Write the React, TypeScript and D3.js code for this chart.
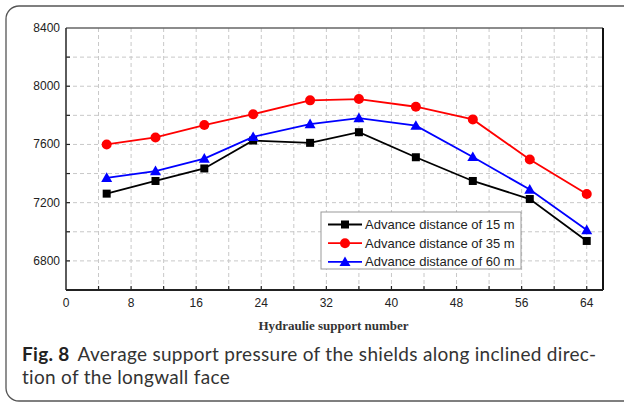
import React from "react";
import * as d3 from "d3";

const supports = [5, 11, 17, 23, 30, 36, 43, 50, 57, 64];
const dist15 = [7262, 7349, 7435, 7627, 7611, 7684, 7512, 7349, 7225, 6937];
const dist35 = [7600, 7648, 7733, 7808, 7903, 7912, 7859, 7772, 7497, 7260];
const dist60 = [7371, 7417, 7503, 7652, 7740, 7781, 7729, 7514, 7290, 7012];
const seriesNames = [
  "Advance distance of 15 m",
  "Advance distance of 35 m",
  "Advance distance of 60 m",
];
const xTicks = [0, 8, 16, 24, 32, 40, 48, 56, 64];
const yTicks = [6800, 7200, 7600, 8000, 8400];

const W = 624;
const H = 402;
const M = { left: 66, right: 603, top: 28, bottom: 290 };

export default function App() {
  const x = d3.scaleLinear().domain([0, 66]).range([M.left, M.right]);
  const y = d3.scaleLinear().domain([6600, 8400]).range([M.bottom, M.top]);
  const line = d3
    .line<[number, number]>()
    .x((d) => x(d[0]))
    .y((d) => y(d[1]));

  const series = [
    { name: seriesNames[0], values: dist15, color: "#000000", marker: "square" },
    { name: seriesNames[1], values: dist35, color: "#ff0000", marker: "circle" },
    { name: seriesNames[2], values: dist60, color: "#0000ff", marker: "triangle" },
  ];

  const marker = (type: string, cx: number, cy: number, color: string, key: string) => {
    if (type === "square")
      return <rect key={key} x={cx - 4} y={cy - 4} width={8} height={8} fill={color} />;
    if (type === "circle") return <circle key={key} cx={cx} cy={cy} r={5} fill={color} />;
    const s = 5.5;
    return (
      <path
        key={key}
        d={`M${cx},${cy - s} L${cx + s},${cy + s * 0.75} L${cx - s},${cy + s * 0.75} Z`}
        fill={color}
      />
    );
  };

  const gridX = d3.range(4, 66, 4);
  const gridY = d3.range(6800, 8400, 200);
  const minorX = d3.range(4, 66, 4);
  const minorY = d3.range(6800, 8400, 200);

  const legendX = 321;
  const legendY = 212;
  const sansFont = "'Liberation Sans', Arial, sans-serif";
  const capFont = "Lato, 'Open Sans', sans-serif";

  return (
    <svg
      width={W}
      height={H}
      style={{ position: "absolute", left: 0, top: 0, background: "#fff" }}
    >
      <rect x={6} y={6} width={640} height={395} rx={13} fill="none" stroke="#555" strokeWidth={1.3} />

      {/* grid */}
      <g stroke="#c8c8c8" strokeWidth={1} strokeDasharray="4,3">
        {gridX.map((v) => (
          <line key={"gx" + v} x1={x(v)} x2={x(v)} y1={M.top} y2={M.bottom} />
        ))}
        {gridY.map((v) => (
          <line key={"gy" + v} x1={M.left} x2={M.right} y1={y(v)} y2={y(v)} />
        ))}
      </g>

      {/* inward ticks */}
      <g stroke="#222" strokeWidth={1.2}>
        {minorX.map((v) => (
          <line key={"tx" + v} x1={x(v)} x2={x(v)} y1={M.bottom} y2={M.bottom - 4} />
        ))}
        {minorY.map((v) => (
          <line key={"ty" + v} x1={M.left} x2={M.left + 4} y1={y(v)} y2={y(v)} />
        ))}
      </g>

      {/* frame */}
      <line x1={M.left} x2={M.right} y1={M.top} y2={M.top} stroke="#666" strokeWidth={1.3} />
      <line x1={M.right} x2={M.right} y1={M.top} y2={M.bottom} stroke="#111" strokeWidth={2} />
      <line x1={M.left} x2={M.left} y1={M.top} y2={M.bottom} stroke="#333" strokeWidth={1.6} />
      <line x1={M.left} x2={M.right} y1={M.bottom} y2={M.bottom} stroke="#222" strokeWidth={2} />

      {/* tick labels */}
      <g fontFamily={sansFont} fontSize={12} fill="#222">
        {xTicks.map((v) => (
          <text key={"xl" + v} x={x(v)} y={M.bottom + 17} textAnchor="middle">
            {v}
          </text>
        ))}
        {yTicks.map((v) => (
          <text key={"yl" + v} x={M.left - 6} y={y(v) + 4} textAnchor="end">
            {v}
          </text>
        ))}
      </g>

      <text
        x={(M.left + M.right) / 2 - 1}
        y={330}
        textAnchor="middle"
        fontFamily="'Liberation Serif', 'Times New Roman', serif"
        fontWeight="bold"
        fontSize={13}
        fill="#333"
      >
        Hydraulie support number
      </text>

      {/* series */}
      {series.map((s) => (
        <g key={s.name}>
          <path
            d={line(supports.map((v, i) => [v, s.values[i]]) as [number, number][]) || ""}
            fill="none"
            stroke={s.color}
            strokeWidth={1.8}
          />
          {supports.map((v, i) => marker(s.marker, x(v), y(s.values[i]), s.color, s.name + i))}
        </g>
      ))}

      {/* legend */}
      <rect
        x={legendX}
        y={legendY}
        width={200}
        height={57}
        fill="#fff"
        stroke="#999"
        strokeWidth={1}
      />
      {series.map((s, i) => {
        const ly = legendY + 12.5 + i * 18.7;
        return (
          <g key={"lg" + i}>
            <line x1={legendX + 7} x2={legendX + 41} y1={ly} y2={ly} stroke={s.color} strokeWidth={1.8} />
            {marker(s.marker, legendX + 24, ly, s.color, "lm" + i)}
            <text
              x={legendX + 44}
              y={ly + 4.5}
              fontFamily={sansFont}
              fontSize={13}
              fill="#222"
            >
              {s.name}
            </text>
          </g>
        );
      })}

      {/* caption */}
      <text x={22} y={361} fontFamily={capFont} fontSize={19} fill="#333" letterSpacing={0.3}>
        <tspan fontWeight="bold" fill="#222">Fig. 8</tspan>
        <tspan dx={8}>Average support pressure of the shields along inclined direc-</tspan>
        <tspan x={22} dy={23}>tion of the longwall face</tspan>
      </text>
    </svg>
  );
}
